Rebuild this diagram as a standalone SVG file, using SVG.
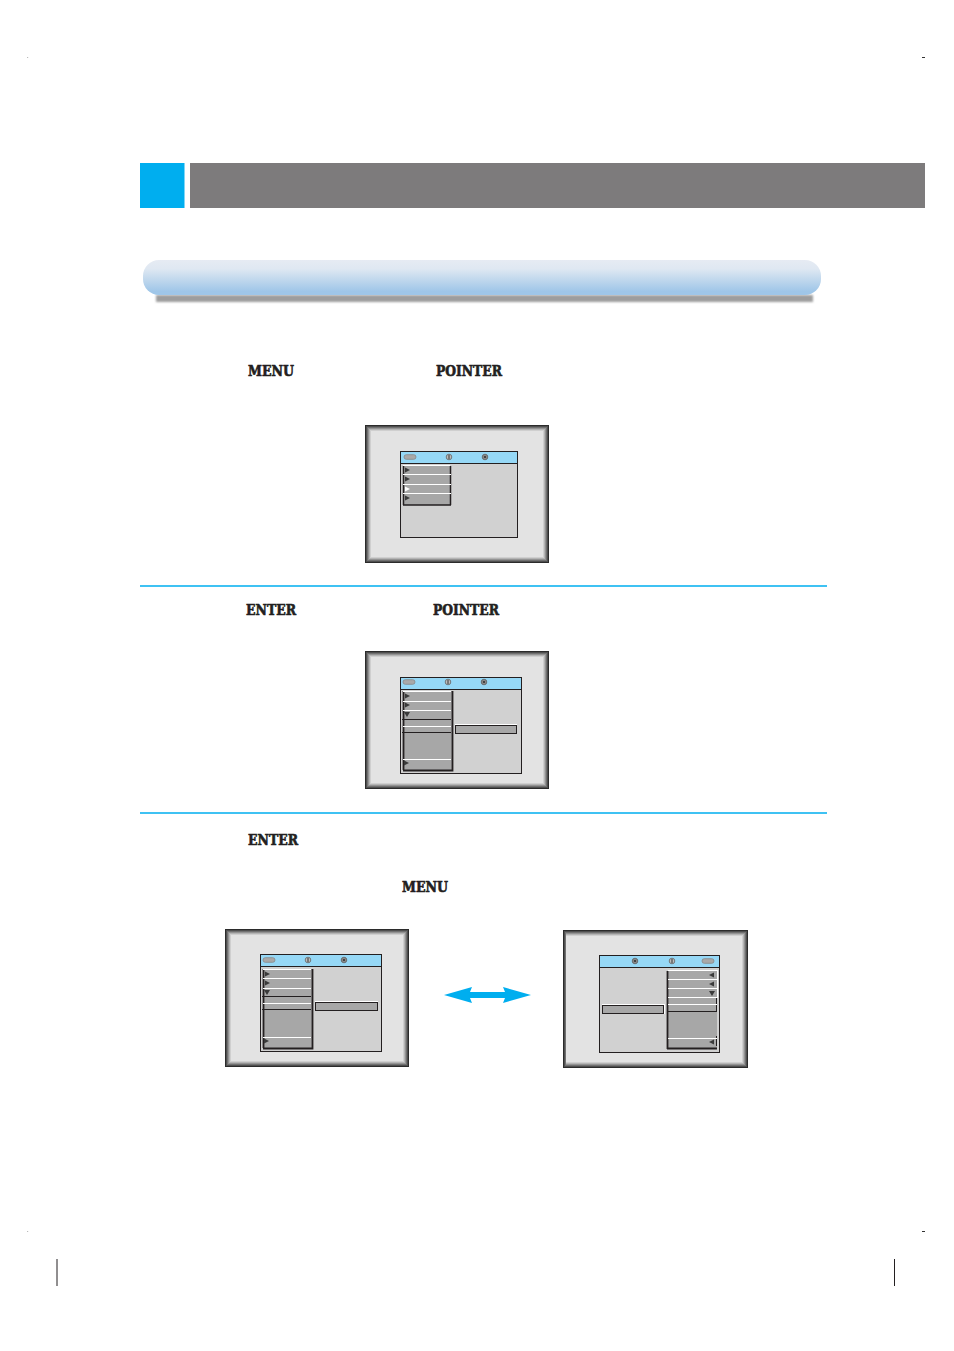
<svg xmlns="http://www.w3.org/2000/svg" width="954" height="1351" viewBox="0 0 954 1351">
<style>
.k{font-family:"DejaVu Serif","Liberation Serif",serif;font-weight:bold;font-size:14px;fill:#231f20;stroke:#231f20;stroke-width:.6px}
.m{fill:#a7a7a7}
.w{stroke:#fff;stroke-width:1;fill:none}
.d{stroke:#231f20;fill:none}
.s{fill:#d1d1d1;stroke:#231f20;stroke-width:1}
.t{fill:#96d8f6;stroke:#231f20;stroke-width:1}
.o{fill:#a9a9a9;stroke:#888;stroke-width:.8}
.b{fill:#00aeef}
.rule{stroke:#00aeef;stroke-width:1.6;fill:none}
.crop{stroke:#231f20;stroke-width:1;fill:none}
</style>
<defs>
<linearGradient id="bar" x1="0" y1="0" x2="0" y2="1">
<stop offset="0" stop-color="#e6ebf3"/><stop offset=".25" stop-color="#dfe8f2"/><stop offset=".9" stop-color="#9fc6e8"/><stop offset="1" stop-color="#9fc6e8"/>
</linearGradient>
<filter id="bl" x="-5%" y="-60%" width="110%" height="220%"><feGaussianBlur stdDeviation="1"/></filter>
<g id="frame">
<rect x="0" y="0" width="184" height="138" fill="#2b2b2b"/>
<rect x="1" y="1" width="182" height="136" fill="#4f4f4f"/>
<rect x="2" y="2" width="180" height="134" fill="#717171"/>
<rect x="3" y="3" width="178" height="132" fill="#939393"/>
<rect x="4" y="4" width="176" height="130" fill="#b4b4b4"/>
<rect x="5" y="5" width="174" height="128" fill="#cfcfcf"/>
<rect x="6" y="6" width="172" height="126" fill="#e3e3e3"/>
</g>
<path id="ar" d="M0-2.500 5 0 0 2.500Z" fill="#3a3a3a"/>
<path id="al" d="M0-2.500-5 0 0 2.500Z" fill="#3a3a3a"/>
<path id="ad" d="M-3 0H3L0 5Z" fill="#3a3a3a"/>
<g id="pill"><rect x="-6" y="-2.300" width="12" height="4.600" rx="2.300" class="o"/></g>
<g id="i1"><circle r="2.800" fill="#bdbdbd" stroke="#555" stroke-width=".7"/><path d="M0-2V2" stroke="#333" stroke-width="1"/></g>
<g id="i2"><circle r="2.800" fill="#8a8a8a" stroke="#555" stroke-width=".7"/><circle r="1.100" fill="#333"/></g>
</defs>
<rect width="954" height="1351" fill="#fff"/>

<g id="page-marks">
<path class="crop" d="M57 1259V1286M894.500 1259V1286"/>
<path d="M922 57.500H925M922 1231.500H925" stroke="#333" stroke-width="1"/>
<path d="M27.500 57.500h.6M27.500 1231.500h.6" stroke="#777" stroke-width="1"/>
</g>

<g id="header">
<rect x="140" y="163" width="44.500" height="45" class="b"/>
<rect x="190" y="163" width="735" height="45" fill="#7d7b7c"/>
</g>

<g id="banner">
<rect x="156" y="295" width="657" height="7" fill="#9d9d9d" filter="url(#bl)"/>
<rect x="143" y="260" width="678" height="35" rx="16" fill="url(#bar)"/>
</g>

<g id="labels">
<text class="k" x="248" y="376" textLength="46" lengthAdjust="spacingAndGlyphs">MENU</text>
<text class="k" x="436" y="376" textLength="66" lengthAdjust="spacingAndGlyphs">POINTER</text>
<text class="k" x="246" y="615" textLength="50" lengthAdjust="spacingAndGlyphs">ENTER</text>
<text class="k" x="433" y="615" textLength="66" lengthAdjust="spacingAndGlyphs">POINTER</text>
<text class="k" x="248" y="845" textLength="50" lengthAdjust="spacingAndGlyphs">ENTER</text>
<text class="k" x="402" y="892" textLength="46" lengthAdjust="spacingAndGlyphs">MENU</text>
</g>

<g id="rules">
<path class="rule" d="M140 586H827M140 813H827"/>
</g>

<g id="screen-1">
<use href="#frame" x="365" y="425"/>
<rect x="400.500" y="451.500" width="117" height="86" class="s"/>
<rect x="400.500" y="451.500" width="117" height="12" class="t"/>
<use href="#pill" x="410" y="457"/><use href="#i1" x="449" y="457"/><use href="#i2" x="485" y="457"/>
<rect x="403" y="466" width="47" height="39" class="m"/>
<path d="M403 505H451M450.500 466V505M403.500 466V505" stroke="#231f20" stroke-width="1.500" fill="none"/>
<path d="M403 465.500H450M403 474.500H451M403 484.500H451M403 493.500H451" class="w"/>
<use href="#ar" x="405" y="470"/><use href="#ar" x="405" y="479"/>
<path d="M405 486.500 410 489 405 491.500Z" fill="#fff"/>
<use href="#ar" x="405" y="498"/>
</g>

<g id="screen-2">
<use href="#frame" x="365" y="651"/>
<rect x="400.500" y="677.500" width="121" height="96" class="s"/>
<rect x="400.500" y="677.500" width="121" height="12" class="t"/>
<use href="#pill" x="409" y="682"/><use href="#i1" x="448" y="682"/><use href="#i2" x="484" y="682"/>
<rect x="403" y="691" width="49" height="79" class="m"/>
<path d="M403 770.500H452.500V691M403.500 691V770" stroke="#231f20" stroke-width="1.800" fill="none"/>
<path d="M403 691.500H451M403 701.500H451M403 710.500H451M403 726.500H451M403 759.500H451" class="w"/>
<path d="M402 719.500H451M402 732.500H451" class="d"/>
<use href="#ar" x="405" y="696"/><use href="#ar" x="405" y="705"/><use href="#ad" x="407" y="712"/><use href="#ar" x="404" y="763"/>
<rect x="455.500" y="725.500" width="61" height="8" class="m" stroke="#231f20"/>
<path d="M455 724.500H517" class="w"/>
</g>

<g id="screen-3">
<use href="#frame" x="225" y="929"/>
<rect x="260.500" y="954.500" width="121" height="97" class="s"/>
<rect x="260.500" y="954.500" width="121" height="12" class="t"/>
<use href="#pill" x="269" y="960"/><use href="#i1" x="308" y="960"/><use href="#i2" x="344" y="960"/>
<rect x="263" y="969" width="49" height="79" class="m"/>
<path d="M263 1048.500H312.500V969M263.500 969V1048" stroke="#231f20" stroke-width="1.800" fill="none"/>
<path d="M263 969.500H311M263 978.500H311M263 988.500H311M263 1003.500H311M263 1037.500H311" class="w"/>
<path d="M262 996.500H311M262 1009.500H311" class="d"/>
<use href="#ar" x="265" y="974"/><use href="#ar" x="265" y="983"/><use href="#ad" x="267" y="990"/><use href="#ar" x="264" y="1041"/>
<rect x="315.500" y="1002.500" width="62" height="8" class="m" stroke="#231f20"/>
<path d="M315 1001.500H378" class="w"/>
</g>

<g id="connectors">
<path class="b" d="M444 995 472 987 470 992H505L503 987 531 995 503 1003 505 998H470L472 1003Z"/>
</g>

<g id="screen-4">
<use href="#frame" x="563" y="930"/>
<rect x="566" y="930" width="182" height="138" fill="#2b2b2b"/>
<rect x="566" y="931" width="181" height="136" fill="#4f4f4f"/>
<rect x="566" y="932" width="180" height="134" fill="#717171"/>
<rect x="566" y="933" width="179" height="132" fill="#939393"/>
<rect x="566" y="934" width="178" height="130" fill="#b4b4b4"/>
<rect x="566" y="935" width="177" height="128" fill="#cfcfcf"/>
<rect x="566" y="936" width="176" height="126" fill="#e3e3e3"/>
<rect x="599.500" y="955.500" width="120" height="97" class="s"/>
<rect x="599.500" y="955.500" width="120" height="12" class="t"/>
<use href="#i2" x="635" y="961"/><use href="#i1" x="672" y="961"/><use href="#pill" x="708" y="961"/>
<rect x="668" y="971" width="49" height="78" class="m"/>
<path d="M667.500 971V1049M667 1048.500H717" stroke="#231f20" stroke-width="1.800" fill="none"/>
<path d="M716.500 998V1012M716.500 1036V1046" class="d"/>
<path d="M668 970.500H717M668 979.500H717M668 988.500H717M668 997.500H717M668 1004.500H717M668 1038.500H717M717.500 970V998" class="w"/>
<path d="M667 1011.500H716" class="d"/>
<use href="#al" x="714" y="975"/><use href="#al" x="714" y="984"/><use href="#ad" x="712" y="991"/><use href="#al" x="714" y="1042"/>
<rect x="602.500" y="1005.500" width="61" height="8" class="m" stroke="#231f20"/>
<path d="M602 1004.500H665M664.500 1004V1014" class="w"/>
</g>
</svg>
